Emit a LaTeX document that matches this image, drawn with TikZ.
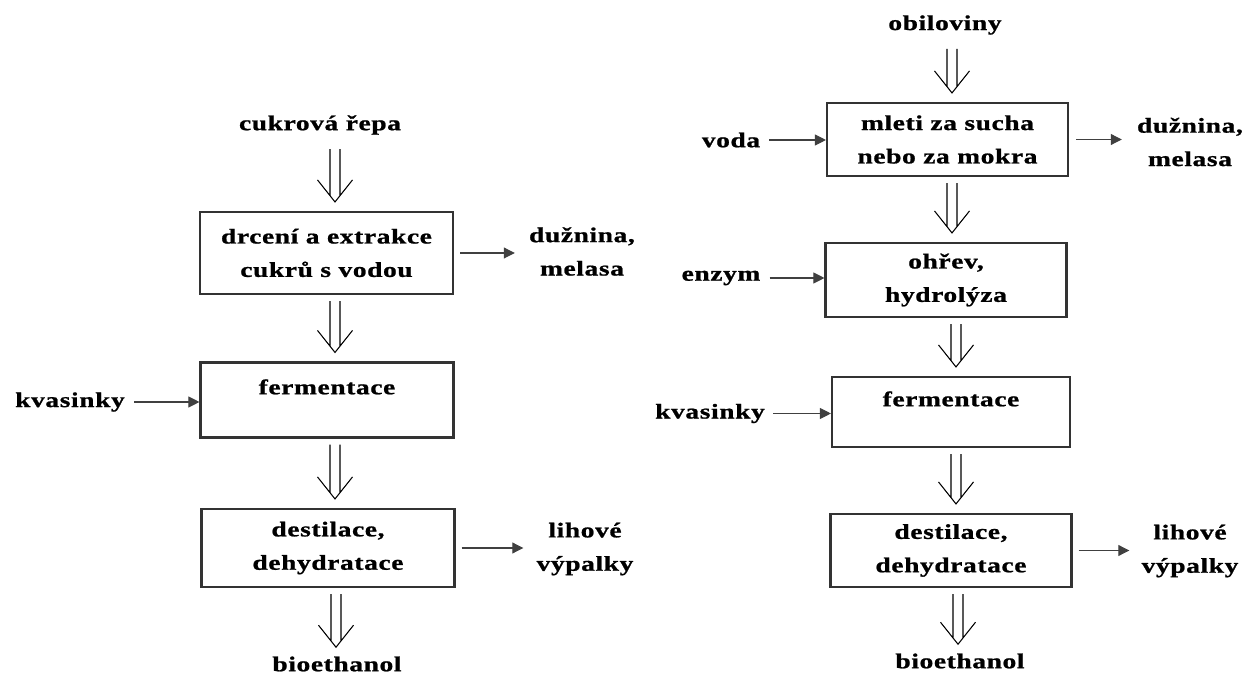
\documentclass[tikz,border=0pt]{standalone}
\usepackage{fontspec}
\setmainfont{Liberation Serif}[FakeStretch=1.3,LetterSpace=3,FakeBold=1]
\usetikzlibrary{arrows.meta, calc}

\begin{document}
\begin{tikzpicture}[
  font=\fontsize{12}{19}\selectfont\bfseries,
  lbl/.style={inner sep=0pt, align=center},
  box/.style={draw=black!80, line width=1.2pt, align=center, inner sep=0pt,
              minimum width=5.06cm, minimum height=1.56cm},
  rbox/.style={box, minimum width=4.82cm, minimum height=1.46cm},
  ar/.style={-{Triangle[length=2.2mm, width=2.2mm]}, line width=0.6pt, draw=black!75},
  dbl/.style={line width=0.6pt, to path={let \p1=(\tikztostart), \p2=(\tikztotarget) in
      (\x1-1mm,\y1-1.2mm) -- (\x1-1mm,\y2+3.1mm)
      (\x1+1mm,\y1-1.2mm) -- (\x1+1mm,\y2+3.1mm)
      (\x1-3.5mm,\y2+6.2mm) -- (\x1,\y2+1.8mm) -- (\x1+3.5mm,\y2+6.2mm)}}
]
\useasboundingbox (0,0) rectangle (25.06,-13.58);

% cukrova repa
\node[lbl] at (6.40,-2.50) (repa) {cukrová řepa};
\node[box, minimum height=1.64cm] at (6.53,-5.06) (drceni) {drcení a extrakce\\cukrů s vodou};
\node[box, minimum height=1.50cm] at (6.54,-8.00) (ferm1) {fermentace\\[-4pt]\mbox{}};
\node[box] at (6.56,-10.96) (dest1) {destilace,\\dehydratace};
\node[lbl] at (6.74,-13.28) (bio1) {bioethanol};
\node[lbl] at (1.40,-8.04) (kvas1) {kvasinky};
\node[lbl] at (11.64,-5.03) (duz1) {dužnina,\\melasa};
\node[lbl] at (11.70,-10.98) (lih1) {lihové\\výpalky};

\draw[dbl] ([xshift=3mm,yshift=-1.6mm]repa.south) to (drceni.north);
\draw[dbl] ([xshift=1.7mm]drceni.south) to (ferm1.north);
\draw[dbl] ([xshift=1.6mm]ferm1.south) to (dest1.north);
\draw[dbl] ([xshift=1.6mm]dest1.south) to (bio1.north);
\draw[ar, shorten <=1.8mm] (kvas1.east) -- (kvas1.east -| ferm1.west);
\draw[ar, shorten <=1.2mm, shorten >=2.8mm] (drceni.east) -- (drceni.east -| duz1.west);
\draw[ar, shorten <=1.2mm, shorten >=2.6mm] (dest1.east) -- (dest1.east -| lih1.west);

% obiloviny
\node[lbl] at (18.90,-0.50) (obil) {obiloviny};
\node[rbox] at (18.95,-2.79) (mleti) {mleti za sucha\\nebo za mokra};
\node[rbox, minimum height=1.48cm] at (18.92,-5.60) (ohrev) {ohřev,\\hydrolýza};
\node[rbox, minimum width=4.76cm, minimum height=1.40cm] at (19.02,-8.24) (ferm2) {fermentace\\[-4pt]\mbox{}};
\node[rbox] at (19.02,-11.01) (dest2) {destilace,\\dehydratace};
\node[lbl] at (19.20,-13.22) (bio2) {bioethanol};
\node[lbl] at (14.62,-2.80) (voda) {voda};
\node[lbl] at (14.42,-5.56) (enzym) {enzym};
\node[lbl] at (14.20,-8.27) (kvas2) {kvasinky};
\node[lbl] at (23.80,-2.84) (duz2) {dužnina,\\melasa};
\node[lbl] at (23.80,-11.02) (lih2) {lihové\\výpalky};

\draw[dbl] ([xshift=1.4mm,yshift=-1.6mm]obil.south) to (mleti.north);
\draw[dbl] ([xshift=0.9mm]mleti.south) to (ohrev.north);
\draw[dbl] ([xshift=2mm]ohrev.south) to (ferm2.north);
\draw[dbl] ([xshift=1mm]ferm2.south) to (dest2.north);
\draw[dbl] ([xshift=1.4mm]dest2.south) to (bio2.north);
\draw[ar, shorten <=1.8mm] (voda.east) -- (voda.east -| mleti.west);
\draw[ar, shorten <=1.8mm] (enzym.east) -- (enzym.east -| ohrev.west);
\draw[ar, shorten <=1.6mm] (kvas2.east) -- (kvas2.east -| ferm2.west);
\draw[ar, shorten <=1.4mm, shorten >=3mm] (mleti.east) -- (mleti.east -| duz2.west);
\draw[ar, shorten <=1.2mm, shorten >=2.4mm] (dest2.east) -- (dest2.east -| lih2.west);
\end{tikzpicture}
\end{document}
